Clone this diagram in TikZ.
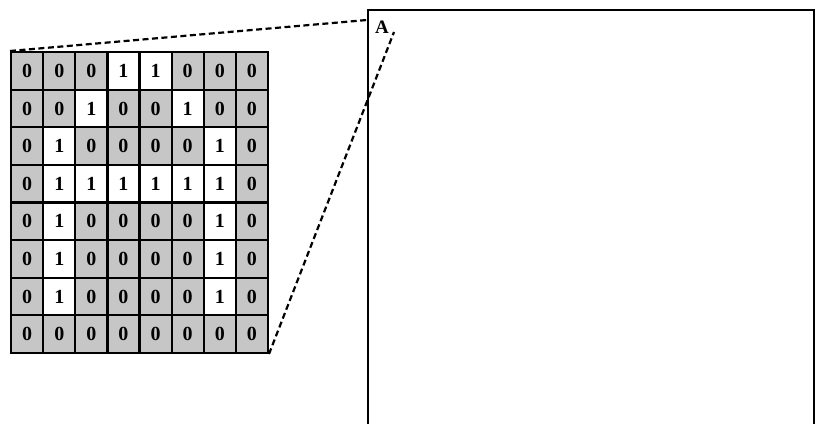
\documentclass[tikz,border=0pt]{standalone}
\usepackage{fontspec}
\setmainfont{Liberation Serif}
\begin{document}
\begin{tikzpicture}[x=1pt,y=-1pt,
  cellbox/.style={draw=black, line width=2.2pt, minimum width=32.1pt, minimum height=37.6pt,
    inner sep=0pt, font=\fontsize{20}{20}\selectfont\bfseries, anchor=north west},
  zero/.style={cellbox, fill=gray!45},
  one/.style={cellbox, fill=white},
  link/.style={line width=2.2pt, dash pattern=on 6pt off 3.5pt},
  panel/.style={draw=black, line width=2.2pt, minimum width=446pt, minimum height=440pt,
    inner sep=0pt, anchor=north west}]
\useasboundingbox (0,0) rectangle (818,423);
\node[panel] (P) at (367,9) {};
\foreach \row [count=\i] in {{0,0,0,1,1,0,0,0},{0,0,1,0,0,1,0,0},{0,1,0,0,0,0,1,0},{0,1,1,1,1,1,1,0},{0,1,0,0,0,0,1,0},{0,1,0,0,0,0,1,0},{0,1,0,0,0,0,1,0},{0,0,0,0,0,0,0,0}}{
  \foreach \v [count=\j] in \row {
    \ifnum\v=0 \def\sty{zero}\else\def\sty{one}\fi
    \node[\sty] (c\i\j) at ({10+(\j-1)*32.1},{51+(\i-1)*37.6}) {\v};
  }
}
\node[font=\fontsize{19}{19}\selectfont\bfseries] (A) at (382,27) {A};
\coordinate (t1) at (367,20);
\coordinate (t2) at (394,32);
\draw[link] (c11.north west) -- (t1);
\draw[link] (c88.south east) -- (t2);
\end{tikzpicture}
\end{document}
